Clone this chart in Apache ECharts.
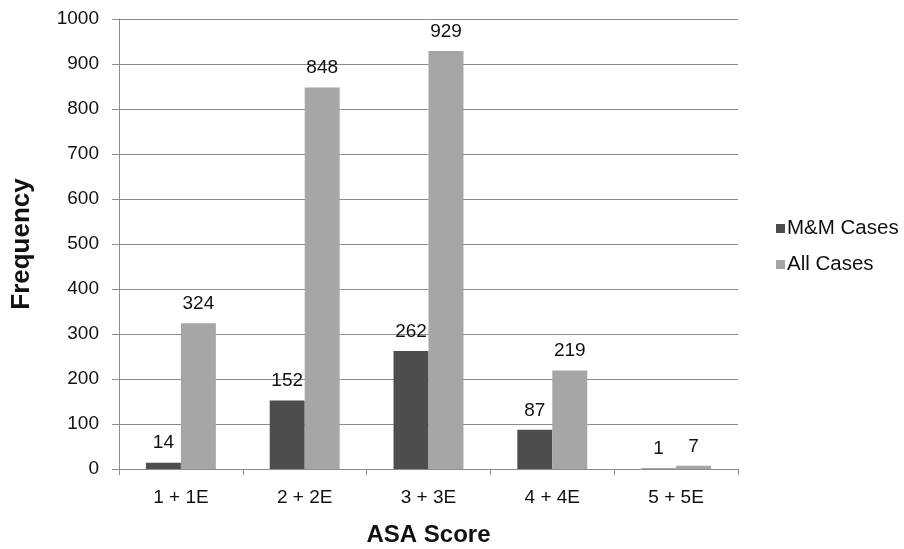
<!DOCTYPE html>
<html>
<head>
<meta charset="utf-8">
<script src="https://cdn.jsdelivr.net/npm/echarts@6/dist/echarts.min.js"></script>
<style>
  html, body { margin: 0; padding: 0; background: #fff; }
  #chart { width: 904px; height: 549px; }
</style>
</head>
<body>
<div id="chart"></div>
<script>
// ASA score groups and case counts per group
const categories = ['1 + 1E', '2 + 2E', '3 + 3E', '4 + 4E', '5 + 5E'];
const mmCases = [14, 152, 262, 87, 1];
const allCases = [324, 848, 929, 219, 7];
const yTicks = [0, 100, 200, 300, 400, 500, 600, 700, 800, 900, 1000];

const FONT = '"Liberation Sans", Arial, sans-serif';
const AXIS_GREY = '#8c8c8c';

const chart = echarts.init(document.getElementById('chart'), null, { renderer: 'canvas' });

const labelStyle = {
  show: true,
  position: 'top',
  distance: 10,
  fontFamily: FONT,
  fontSize: 19,
  color: '#111'
};

chart.setOption({
  animation: false,
  backgroundColor: '#fff',
  textStyle: { fontFamily: FONT },
  grid: {
    left: 119, right: 166, top: 19, bottom: 80,
    containLabel: false,
    outerBoundsMode: 'none'
  },
  legend: {
    orient: 'vertical',
    left: 776,
    top: 218,
    padding: 0,
    itemWidth: 9,
    itemHeight: 9,
    itemGap: 15,
    icon: 'rect',
    textStyle: { fontFamily: FONT, fontSize: 20.5, color: '#111', padding: [0, 0, 0, -3] },
    data: ['M&M Cases', 'All Cases']
  },
  xAxis: {
    type: 'category',
    data: categories,
    name: 'ASA Score',
    nameLocation: 'middle',
    nameGap: 54,
    nameTextStyle: { fontFamily: FONT, fontSize: 24, fontWeight: 'bold', color: '#111' },
    axisLine: { show: true, lineStyle: { color: AXIS_GREY, width: 1 } },
    axisTick: { show: true, alignWithLabel: false, length: 6, lineStyle: { color: AXIS_GREY } },
    axisLabel: { fontFamily: FONT, fontSize: 19, color: '#111', margin: 19 },
    splitLine: { show: false }
  },
  yAxis: {
    type: 'value',
    min: yTicks[0],
    max: yTicks[yTicks.length - 1],
    interval: yTicks[1] - yTicks[0],
    name: 'Frequency',
    nameLocation: 'middle',
    nameGap: 84,
    nameRotate: 90,
    nameTextStyle: { fontFamily: FONT, fontSize: 26, fontWeight: 'bold', color: '#111' },
    axisLine: { show: true, lineStyle: { color: AXIS_GREY, width: 1 } },
    axisTick: { show: true, length: 7, lineStyle: { color: AXIS_GREY } },
    axisLabel: {
      fontFamily: FONT, fontSize: 19, color: '#111', margin: 20,
      formatter: (v) => String(v)
    },
    splitLine: { show: true, lineStyle: { color: AXIS_GREY, width: 1 } }
  },
  series: [
    {
      name: 'M&M Cases',
      type: 'bar',
      data: mmCases,
      barGap: '0%',
      barCategoryGap: '43.5%',
      itemStyle: { color: '#4d4d4d' },
      label: labelStyle
    },
    {
      name: 'All Cases',
      type: 'bar',
      data: allCases,
      barGap: '0%',
      barCategoryGap: '43.5%',
      itemStyle: { color: '#a6a6a6' },
      label: labelStyle
    }
  ]
});
</script>
</body>
</html>
